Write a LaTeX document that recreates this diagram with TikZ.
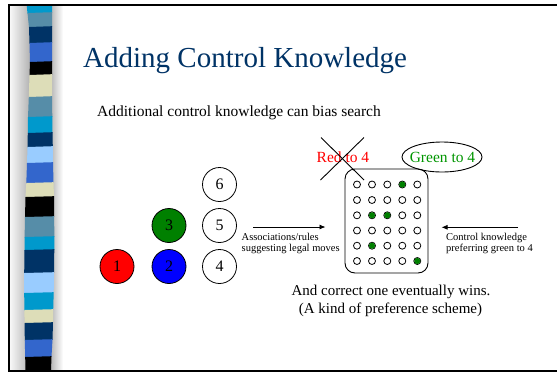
\documentclass[tikz,border=0pt]{standalone}
\usepackage{fontspec}
\setmainfont{Liberation Serif}
\usetikzlibrary{arrows.meta,shapes.geometric}
\definecolor{titleblue}{RGB}{0,51,102}
\definecolor{scyan}{RGB}{0,153,204}
\definecolor{ssteel}{RGB}{86,141,168}
\definecolor{snavy}{RGB}{0,51,102}
\definecolor{sroyal}{RGB}{51,102,204}
\definecolor{sbeige}{RGB}{221,221,184}
\definecolor{slight}{RGB}{153,204,255}
\definecolor{dgreen}{RGB}{0,128,0}
\definecolor{tgreen}{RGB}{0,150,0}
\begin{document}
\begin{tikzpicture}[x=1pt,y=-1pt,
  num/.style={circle,draw,line width=0.8pt,minimum size=34pt,inner sep=0pt,
              font=\fontsize{16}{16}\selectfont},
  dot/.style={circle,draw,line width=0.8pt,minimum size=7pt,inner sep=0pt},
  lbl/.style={anchor=base west,inner sep=0pt},
  small/.style={lbl,font=\fontsize{10.5}{10.5}\selectfont},
  arr/.style={line width=0.8pt,-{Latex[length=6pt,width=5pt]}},
  thin/.style={line width=0.9pt}]
\useasboundingbox (0,0) rectangle (557,373);
\fill[white] (0,0) rectangle (557,373);

% shaded margins beside the stripe
\shade[left color=gray!6, right color=gray!60] (10,5) rectangle (30,371);
\shade[left color=gray!60, right color=white] (50,5) rectangle (63,371);

% striped band
\foreach \ya/\yb/\xla/\xra/\xlb/\xrb/\c in {
  5/13/26.7/52/27.5/52/scyan,
  13/27/27.5/52/29/52/ssteel,
  27/43/29/52/29.5/52/snavy,
  43/62/29.5/52/30/52/sroyal,
  62/75/30/52/29.5/52/black,
  75/97/29.5/52/28.8/52/sbeige,
  97/117/28.8/52/28/52.3/ssteel,
  117/133/28/52.3/27.8/52.5/scyan,
  133/147/27.8/52.5/27.5/52.8/snavy,
  147/163/27.5/52.8/27/53/slight,
  163/183/27/53/26.3/53.5/sroyal,
  183/197/26.3/53.5/25.5/54/sbeige,
  197/217/25.5/54/25/54.2/black,
  217/237/25/54.2/24.6/54.3/ssteel,
  237/250/24.6/54.3/24.5/54.3/scyan,
  250/273/24.5/54.3/24.2/54/snavy,
  273/293/24.2/54/24.2/53.7/slight,
  293/310/24.2/53.7/24.4/53.2/scyan,
  310/323/24.4/53.2/24.6/53/sbeige,
  323/340/24.6/53/24.8/52.5/snavy,
  340/357/24.8/52.5/25.2/51.5/sroyal,
  357/371/25.2/51.5/25.5/51/black}
  \fill[\c] (\xla,\ya) -- (\xra,{\ya-0.8}) -- (\xrb,{\yb-0.2}) -- (\xlb,{\yb+0.6}) -- cycle;

% frame
\draw[line width=2pt] (565,5) -- (8.5,5) -- (8.5,371) -- (565,371);

% headings
\node[lbl,text=titleblue,font=\fontsize{29}{29}\selectfont] (title) at (83,67) {Adding Control Knowledge};
\node[lbl,font=\fontsize{15.5}{15.5}\selectfont] (sub) at (97,116) {Additional control knowledge can bias search};

% numbered pieces
\node[num] (n6) at (219.5,184.5) {6};
\node[num] (n5) at (219.5,225.5) {5};
\node[num] (n4) at (219.5,266.5) {4};
\node[num,fill=dgreen] (n3) at (169,225.5) {3};
\node[num,fill=blue] (n2) at (169,266.5) {2};
\node[num,fill=red] (n1) at (117,266.5) {1};

% board of candidate moves
\node[draw,thin,rounded corners=10pt,minimum width=83pt,minimum height=104pt,inner sep=0pt] (board) at (386.5,221) {};
\foreach \r/\y in {1/184.5,2/200,3/215.3,4/230.5,5/245.7,6/261}
  \foreach \c/\x in {1/357,2/372,3/387.3,4/402.3,5/417.3}
    \node[dot] (g\r\c) at (\x,\y) {};
\foreach \n in {g14,g32,g33,g52,g65}
  \fill[dgreen] (\n.center) circle[radius=3.1pt];

% rejected and preferred choices
\node[lbl,text=red,font=\fontsize{15.5}{15.5}\selectfont] (redtxt) at (316.5,162) {Red to 4};
\coordinate (x1a) at (321,137.5);
\coordinate (x1b) at (364,180);
\coordinate (x2a) at (364,137.5);
\coordinate (x2b) at (320.5,180);
\draw[thin] (x1a) -- (x1b);
\draw[thin] (x2a) -- (x2b);
\node[draw,thin,ellipse,minimum width=80pt,minimum height=30pt,inner sep=0pt] (gell) at (442,157) {};
\node[text=tgreen,font=\fontsize{15.5}{15.5}\selectfont,inner sep=0pt,anchor=base] (greentxt) at (442.5,162) {Green to 4};

% arrows with their notes
\coordinate (a1s) at (253,227);
\coordinate (a1e) at (325.5,227);
\draw[arr] (a1s) -- (a1e);
\node[small] (assoc1) at (241.5,240) {Associations/rules};
\node[small] (assoc2) at (241.5,251) {suggesting legal moves};
\coordinate (a2s) at (518,227.3);
\coordinate (a2e) at (441.5,227.3);
\draw[arr] (a2s) -- (a2e);
\node[small] (ctrl1) at (446,240) {Control knowledge};
\node[small] (ctrl2) at (446,251) {preferring green to 4};

% closing remark
\node[anchor=base,inner sep=0pt,font=\fontsize{15}{15}\selectfont] (win1) at (391,295) {And correct one eventually wins.};
\node[anchor=base,inner sep=0pt,font=\fontsize{15}{15}\selectfont] (win2) at (390.5,313) {(A kind of preference scheme)};
\end{tikzpicture}
\end{document}
